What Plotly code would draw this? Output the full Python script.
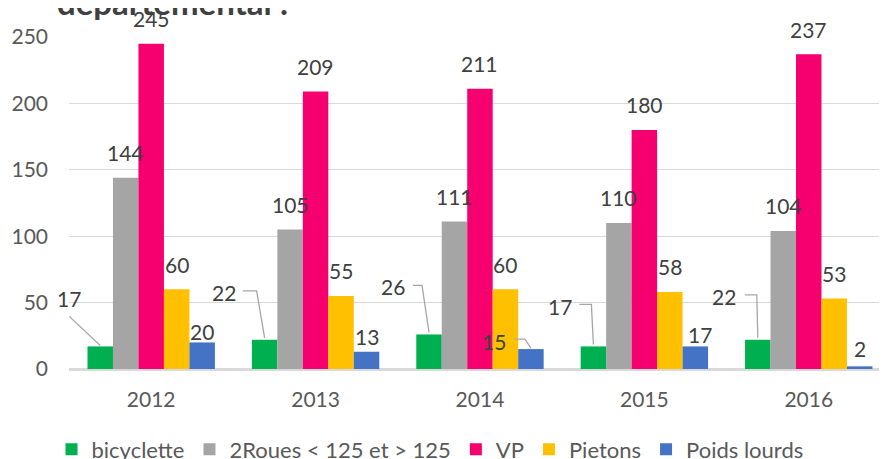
import plotly.graph_objects as go

# ---- data ----
years = ["2012", "2013", "2014", "2015", "2016"]
series_names = ["bicyclette", "2Roues < 125 et > 125", "VP", "Pietons", "Poids lourds"]
bicyclette = [17, 22, 26, 17, 22]
deux_roues = [144, 105, 111, 110, 104]
vp = [245, 209, 211, 180, 237]
pietons = [60, 55, 60, 58, 53]
poids_lourds = [20, 13, 15, 17, 2]
title_text = "départemental :"

# ---- style ----
colors = ["#00b050", "#a5a5a5", "#f5006e", "#ffc000", "#4472c4"]
FONT = "Lato"
TXT = "#404040"
TICK = "#595959"
PAGE_OFF = 8  # default body margin of the html page
W, H = 887 - PAGE_OFF, 459 - PAGE_OFF
ML, MR, MT = 69 - PAGE_OFF, 0, 37 - PAGE_OFF
MB = H - MT - 332
PW = W - ML - MR
YMAX = 250
BARGAP = 0.225
N = 5

# label pixel offsets (dx, dy up) relative to bar top, default (0, 25)
label_offsets = {
    (0, 0): (-31, 48), (0, 1): (-41, 47), (0, 2): (-36, 48), (0, 3): (-33, 40), (0, 4): (-34, 43),
    (4, 0): (0, 11), (4, 1): (0, 15), (4, 2): (-37, 8), (4, 3): (5, 12), (4, 4): (0, 18),
}
# leader line paths (pixels relative to bar top, y up)
leaders = {
    (0, 0): [(-31, 30), (0, 1)],
    (0, 1): [(-22, 49), (-8, 49), (0, 2)],
    (0, 2): [(-16, 49), (-7, 49), (0, 2)],
    (0, 3): [(-14, 42), (-2, 42), (0, 2)],
    (0, 4): [(-13, 45), (-1, 45), (0, 2)],
    (4, 2): [(-16, 10), (-6, 10), (0, 1)],
}

all_values = [bicyclette, deux_roues, vp, pietons, poids_lourds]
xs = list(range(len(years)))

fig = go.Figure()
for k, (name, vals) in enumerate(zip(series_names, all_values)):
    fig.add_trace(go.Bar(x=xs, y=vals, name=name, marker=dict(color=colors[k], line=dict(width=0))))

bw = (1 - BARGAP) / N
annotations = []
shapes = []
for k, vals in enumerate(all_values):
    off = -(1 - BARGAP) / 2 + bw * (k + 0.5)
    for i, v in enumerate(vals):
        xb = xs[i] + off
        dx, dy = label_offsets.get((k, i), (0, 25))
        annotations.append(dict(
            x=xb, y=v, xref="x", yref="y", text=str(v), showarrow=False,
            xanchor="center", yanchor="middle", xshift=dx, yshift=dy,
            font=dict(family=FONT, size=21, color=TXT)))
        if (k, i) in leaders:
            pts = leaders[(k, i)]
            path = "M " + " L ".join(f"{px},{py}" for px, py in pts)
            shapes.append(dict(type="path", xref="x", yref="y", xsizemode="pixel", ysizemode="pixel",
                               xanchor=xb, yanchor=v, path=path,
                               line=dict(color="#a6a6a6", width=1.3)))

annotations.append(dict(
    x=(55 - PAGE_OFF - ML) / PW, y=1.040, xref="paper", yref="paper", text=f"<b>{title_text}</b>",
    showarrow=False, xanchor="left", yanchor="bottom",
    font=dict(family=FONT, size=33, color=TXT)))

fig.update_layout(
    width=W, height=H, margin=dict(l=ML, r=MR, t=MT, b=MB, autoexpand=False),
    paper_bgcolor="white", plot_bgcolor="white",
    barmode="group", bargap=BARGAP, bargroupgap=0,
    font=dict(family=FONT, size=21, color=TICK),
    showlegend=True,
    legend=dict(orientation="h", x=(430 - PAGE_OFF - ML) / PW, xanchor="center", y=-0.179, yanchor="top",
                font=dict(family=FONT, size=22, color=TICK), traceorder="normal"),
    annotations=annotations, shapes=shapes,
)
fig.update_xaxes(range=[-0.5, 4.476], tickmode="array", tickvals=xs, ticktext=years,
                 showgrid=False, zeroline=False, showline=False, ticks="",
                 tickfont=dict(family=FONT, size=21, color=TICK), ticklabelstandoff=16)
fig.update_yaxes(range=[0, YMAX], tickmode="array", tickvals=[0, 50, 100, 150, 200, 250],
                 showgrid=True, gridcolor="#d9d9d9", gridwidth=1.3,
                 zeroline=True, zerolinecolor="#d9d9d9", zerolinewidth=2.5,
                 showline=False, ticks="", tickfont=dict(family=FONT, size=21, color=TICK),
                 ticklabelstandoff=20)

fig.write_html("out.html")
